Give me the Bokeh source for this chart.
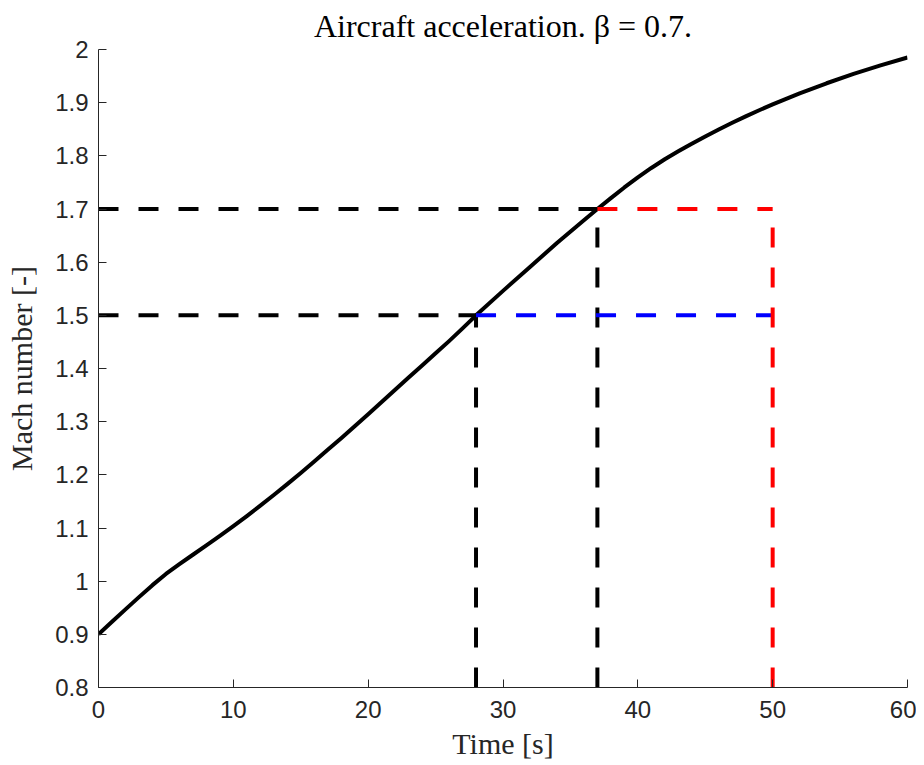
from bokeh.plotting import figure
from bokeh.models import Range1d, FixedTicker, CustomJSTickFormatter
from bokeh.embed import file_html
from bokeh.resources import INLINE

# ---- data ----
time_s = [0, 1, 2, 3, 4, 5, 6, 7, 8, 9, 10, 11, 12, 13, 14, 15, 16, 17, 18, 19, 20,
          21, 22, 23, 24, 25, 26, 27, 28, 30, 32, 34, 36, 37, 38, 39, 40, 41, 42, 43,
          44, 45, 46, 47, 48, 49, 50, 52, 54, 56, 58, 60]
mach = [0.900, 0.9235, 0.947, 0.970, 0.9925, 1.0135, 1.032, 1.0497, 1.0672, 1.085, 1.1035,
        1.1225, 1.142, 1.162, 1.1825, 1.2035, 1.225, 1.247, 1.269, 1.2915, 1.314,
        1.337, 1.360, 1.383, 1.4055, 1.4285, 1.4515, 1.4755, 1.500, 1.546, 1.591, 1.636,
        1.679, 1.700, 1.7205, 1.7405, 1.7595, 1.7772, 1.7935, 1.8085,
        1.8228, 1.8365, 1.8497, 1.8623, 1.8743, 1.8858, 1.8968, 1.9175, 1.9365, 1.954,
        1.970, 1.985]

t_low = 28      # time at which Mach 1.5 is reached
t_high = 37     # time at which Mach 1.7 is reached
t_end = 50      # comparison time
mach_low = 1.5
mach_high = 1.7

x_ticks = [0, 10, 20, 30, 40, 50, 60]
y_ticks = [0.8, 0.9, 1.0, 1.1, 1.2, 1.3, 1.4, 1.5, 1.6, 1.7, 1.8, 1.9, 2.0]

AX = "#262626"
SERIF = "Liberation Serif"
SANS = "Liberation Sans"

p = figure(width=916, height=762, output_backend="svg", toolbar_location=None,
           x_range=Range1d(0, 60), y_range=Range1d(0.8, 2.0),
           min_border_left=98, min_border_right=9, min_border_top=49, min_border_bottom=75,
           title="Aircraft acceleration. β = 0.7.")

p.title.text_font = SERIF
p.title.text_font_size = "32px"
p.title.text_font_style = "normal"
p.title.text_color = "#000000"
p.title.align = "center"
p.title.standoff = 11

p.outline_line_color = None
p.xgrid.visible = False
p.ygrid.visible = False
p.background_fill_color = "white"
p.border_fill_color = "white"

for ax in (p.xaxis[0], p.yaxis[0]):
    ax.axis_line_color = AX
    ax.axis_line_width = 1
    ax.major_tick_line_color = AX
    ax.major_tick_in = 8
    ax.major_tick_out = 0
    ax.minor_tick_line_color = None
    ax.major_label_text_font = SANS
    ax.major_label_text_font_size = "24px"
    ax.major_label_text_color = AX
    ax.axis_label_text_font = SERIF
    ax.axis_label_text_font_size = "30px"
    ax.axis_label_text_font_style = "normal"
    ax.axis_label_text_color = AX

p.xaxis.ticker = FixedTicker(ticks=x_ticks)
p.yaxis.ticker = FixedTicker(ticks=y_ticks)
p.yaxis.formatter = CustomJSTickFormatter(code="return (Math.round(tick*10)/10).toString();")
p.xaxis.axis_label = "Time [s]"
p.yaxis.axis_label = "Mach number [-]"
p.xaxis.major_label_standoff = 13
p.yaxis.major_label_standoff = 10
p.xaxis.axis_label_standoff = 6
p.yaxis.axis_label_standoff = 14

# main curve
p.line(time_s, mach, line_color="black", line_width=4, line_join="round")

DASH = "20 20"
W = 4
# black guides
p.line([0, t_low], [mach_low, mach_low], line_color="black", line_width=W, line_dash=DASH)
p.line([0, t_high], [mach_high, mach_high], line_color="black", line_width=W, line_dash=DASH)
p.line([t_low, t_low], [0.8, mach_low], line_color="black", line_width=W, line_dash=DASH)
p.line([t_high, t_high], [0.8, mach_high], line_color="black", line_width=W, line_dash=DASH)
# blue & red guides
p.line([t_low, t_end], [mach_low, mach_low], line_color="#0000FF", line_width=W, line_dash=DASH)
p.line([t_high, t_end], [mach_high, mach_high], line_color="#FF0000", line_width=W, line_dash=DASH)
p.line([t_end, t_end], [0.8, mach_high], line_color="#FF0000", line_width=W, line_dash=DASH)

open("out.html", "w").write(file_html(p, INLINE))
